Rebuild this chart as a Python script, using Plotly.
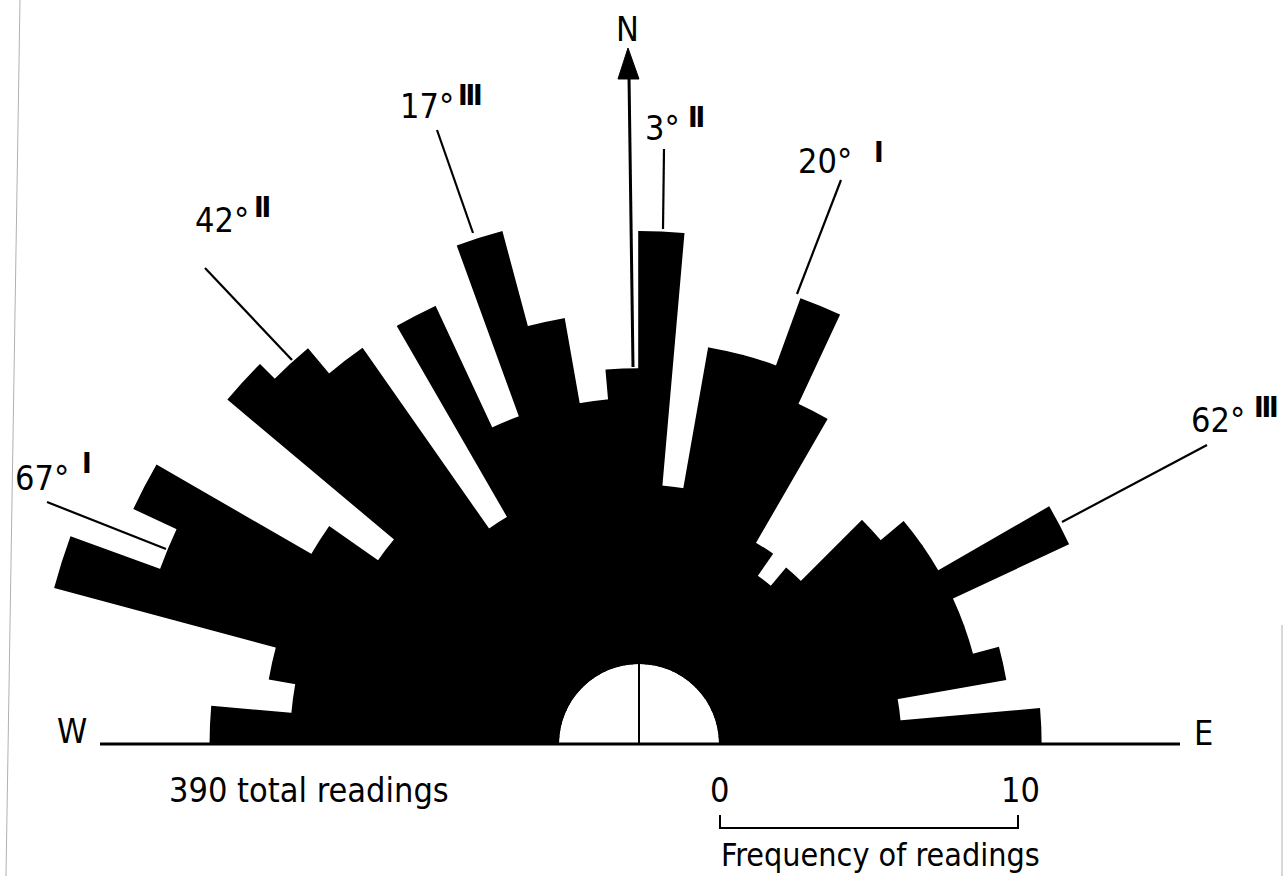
import plotly.graph_objects as go

W, H = 1284, 876

# ---- data: 5-degree bins of bearing measured from North (negative = West) ----
bin_start = list(range(-90, 90, 5))
bearing = [b + 2.5 for b in bin_start]
frequency = [11.7, 9.0, 9.9, 17.6, 14.4, 16.0, 10.0, 8.0, 15.3, 14.6, 13.5, 6.1,
             13.5, 9.0, 15.1, 11.8, 8.9, 9.9, 14.5, 6.0, 10.8, 10.8, 13.2, 9.9,
             5.1, 4.2, 5.0, 7.9, 8.9, 8.9, 13.2, 8.9, 8.9, 9.8, 6.1, 10.8]

mode_angle = ["67°", "42°", "17°", "3°", "20°", "62°"]
mode_class = ["Ⅰ", "Ⅱ", "Ⅲ", "Ⅱ", "Ⅰ", "Ⅲ"]
total_text = "390 total readings"
scale_ticks = ["0", "10"]
scale_title = "Frequency of readings"

# ---- geometry (pixels) ----
CX, CY = 639, 744          # centre of rose
INNER = 80                 # radius of the empty hole
PX_PER_UNIT = 29.8         # 10 readings = 298 px
RMAX = 18.5
R = INNER + RMAX * PX_PER_UNIT


def X(px):
    return px / W


def Y(py):
    return 1 - py / H


FONT = "DejaVu Sans Condensed, Liberation Sans Narrow, DejaVu Sans"

fig = go.Figure(go.Barpolar(
    r=frequency, theta=bearing, width=[5] * len(bearing),
    marker=dict(color="black", line=dict(color="black", width=1.6)),
    hoverinfo="skip", showlegend=False))

fig.update_layout(
    width=W, height=H, margin=dict(l=0, r=0, t=0, b=0),
    paper_bgcolor="white", plot_bgcolor="white", showlegend=False,
    polar=dict(
        domain=dict(x=[X(CX - R), X(CX + R)], y=[Y(CY), Y(CY - R)]),
        sector=[0, 180], hole=INNER / R, bgcolor="rgba(0,0,0,0)",
        radialaxis=dict(visible=False, range=[0, RMAX]),
        angularaxis=dict(visible=False, rotation=90, direction="clockwise"),
    ),
)

shapes = []


def line(x0, y0, x1, y1, w=2.5, color="black"):
    shapes.append(dict(type="line", xref="paper", yref="paper",
                       x0=X(x0), y0=Y(y0), x1=X(x1), y1=Y(y1),
                       line=dict(color=color, width=w)))


def path(pts, fill=None, w=2.5, closed=False):
    d = "M " + " L ".join(f"{X(a):.5f},{Y(b):.5f}" for a, b in pts)
    if closed:
        d += " Z"
    shapes.append(dict(type="path", xref="paper", yref="paper", path=d,
                       fillcolor=fill if fill else "rgba(0,0,0,0)",
                       line=dict(color="black", width=w)))


# W-E base line and centre line in the hole
line(100, CY, 1180, CY, w=3)
line(CX, CY - INNER, CX, CY, w=2)
# North arrow
line(633, 367, 629, 76, w=3)
path([(628, 48), (618, 79), (639, 79)], fill="black", w=1, closed=True)

# leader lines
leaders = [((47, 502), (166, 549)),
           ((205, 268), (292, 360)),
           ((437, 130), (473, 233)),
           ((664, 149), (663, 229)),
           ((841, 180), (797, 294)),
           ((1207, 445), (1062, 522))]
for (a, b) in leaders:
    line(a[0], a[1], b[0], b[1], w=2.2)

# scale bracket
path([(720, 815), (720, 828), (1018, 828), (1018, 815)], w=2)

# scan edges
line(20, 0, 6, H, w=1, color="#b0b0b0")
line(1282, 625, 1282, H, w=1, color="#b0b0b0")

fig.update_layout(shapes=shapes)

ann = []


def text(t, px, py, size=34, weight="normal", xanchor="center"):
    ann.append(dict(text=t, x=X(px), y=Y(py), xref="paper", yref="paper",
                    showarrow=False, xanchor=xanchor, yanchor="middle",
                    font=dict(family=FONT, size=size, color="black",
                              weight=weight)))


text("N", 627, 29)
text("W", 72, 731)
text("E", 1203, 733)

angle_pos = [(42, 478), (222, 220), (427, 106), (662, 128), (825, 161), (1218, 420)]
class_pos = [(80, 463), (252, 207), (456, 95), (686, 117), (872, 152), (1252, 407)]
for t, p in zip(mode_angle, angle_pos):
    text(t, p[0], p[1])
for t, p in zip(mode_class, class_pos):
    text(t, p[0], p[1], size=29, weight="bold", xanchor="left")

text(total_text, 309, 790)
text(scale_ticks[0], 720, 790)
text(scale_ticks[1], 1020, 790)
text(scale_title, 880, 855, size=32)

fig.update_layout(annotations=ann)

fig.write_html("out.html", config={"displayModeBar": False},
               post_script="document.body.style.margin='0';")
